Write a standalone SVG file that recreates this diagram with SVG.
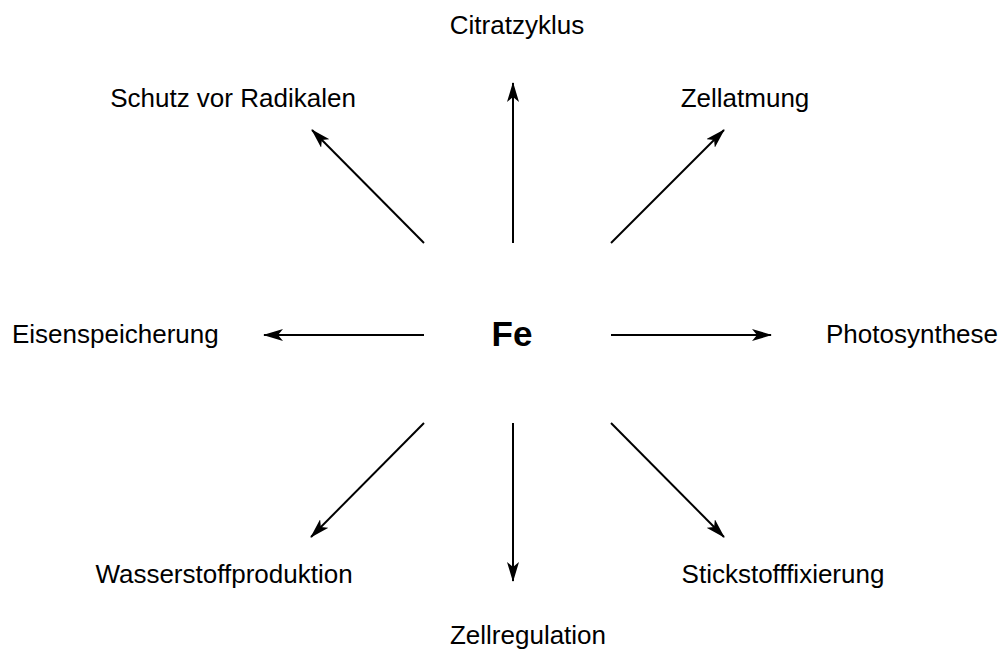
<svg xmlns="http://www.w3.org/2000/svg" width="1001" height="652" viewBox="0 0 1001 652">
<style>
text{font-family:"Liberation Sans",Arial,sans-serif;font-size:26px;fill:#000}
.c{text-anchor:middle}
.fe{font-weight:bold;font-size:35px}
line{stroke:#000;stroke-width:2;marker-end:url(#ah)}
</style>
<defs>
<marker id="ah" viewBox="0 0 20 12" refX="19" refY="6" markerWidth="10" markerHeight="6" orient="auto" markerUnits="strokeWidth">
<path d="M0,0 L20,6 L0,12 L5,6 Z" fill="#000"/>
</marker>
</defs>
<rect width="1001" height="652" fill="#fff"/>
<g id="connectors">
<line x1="513" y1="243" x2="513" y2="83"/>
<line x1="513" y1="423" x2="513" y2="581"/>
<line x1="424" y1="335" x2="264" y2="335"/>
<line x1="611" y1="335" x2="771" y2="335"/>
<line x1="424" y1="243" x2="312" y2="130"/>
<line x1="611" y1="243" x2="724" y2="130"/>
<line x1="424" y1="423" x2="311" y2="537"/>
<line x1="611" y1="423" x2="724" y2="537"/>
</g>
<g id="fe"><text class="fe c" x="512" y="346">Fe</text></g>
<g id="citratzyklus"><text class="c" x="517" y="34">Citratzyklus</text></g>
<g id="schutz"><text class="c" x="233" y="107">Schutz vor Radikalen</text></g>
<g id="zellatmung"><text class="c" x="745" y="107">Zellatmung</text></g>
<g id="eisenspeicherung"><text x="12" y="343">Eisenspeicherung</text></g>
<g id="photosynthese"><text x="826" y="343">Photosynthese</text></g>
<g id="wasserstoff"><text class="c" x="224" y="583">Wasserstoffproduktion</text></g>
<g id="stickstoff"><text class="c" x="783" y="583">Stickstofffixierung</text></g>
<g id="zellregulation"><text class="c" x="528" y="644">Zellregulation</text></g>
</svg>
